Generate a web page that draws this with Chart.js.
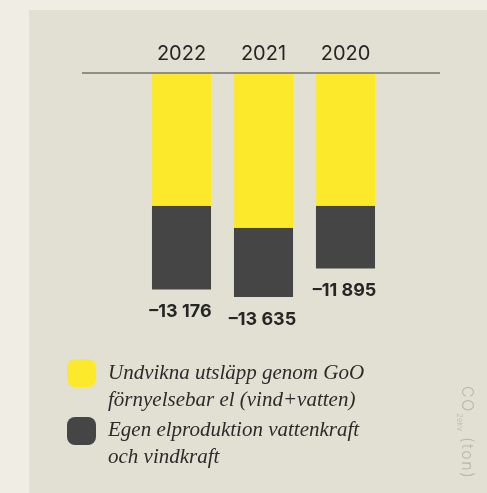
<!DOCTYPE html>
<html>
<head>
<meta charset="utf-8">
<script src="https://cdn.jsdelivr.net/npm/chart.js@4.4.1/dist/chart.umd.min.js"></script>
<style>
  html, body { margin: 0; padding: 0; background: #efede4; }
  #wrap { position: relative; width: 487px; height: 493px; overflow: hidden; }
  #panel { position: absolute; left: 29px; top: 10px; width: 458px; height: 483px; background: #e2e0d3; }
  #chart { position: absolute; left: 0; top: 0; }
  .sw { position: absolute; left: 67px; width: 29px; height: 28px; border-radius: 8px; }
  .lt { position: absolute; left: 108px; font-family: "Liberation Serif", serif; font-style: italic;
        font-size: 21px; line-height: 27px; color: #2b2b2b; white-space: nowrap; }
  #unit { position: absolute; left: 455px; top: 386px; writing-mode: vertical-rl;
          font-family: Inter, sans-serif; font-weight: 300; font-size: 16px; color: #b9b7ab; letter-spacing: 1.5px; }
  #unit sub { font-size: 8px; vertical-align: -8px; letter-spacing: 0; margin-right: 3px; }
</style>
</head>
<body>
<div id="wrap">
  <div id="panel"></div>
  <canvas id="chart" width="487" height="493"></canvas>
  <div class="sw" style="top:359px;background:#fde92b"></div>
  <div class="lt" style="top:359px">Undvikna utsläpp genom GoO<br>förnyelsebar el (vind+vatten)</div>
  <div class="sw" style="top:417px;background:#454545"></div>
  <div class="lt" style="top:416px">Egen elproduktion vattenkraft<br>och vindkraft</div>
  <div id="unit">CO<sub>2ekv</sub> (ton)</div>
</div>
<script>
const years = ["2022", "2021", "2020"];
const avoided = [-8070, -9410, -8065];
const ownProduction = [-5106, -4225, -3830];

function fmt(v) {
  return "\u2013" + String(Math.abs(v)).replace(/\B(?=(\d{3})+(?!\d))/g, " ");
}

const extras = {
  id: 'extras',
  afterDatasetsDraw(chart) {
    const ctx = chart.ctx;
    const y = chart.scales.y, x = chart.scales.x;
    ctx.save();
    // baseline
    ctx.strokeStyle = '#3c3c3c';
    ctx.lineWidth = 1.2;
    ctx.beginPath();
    ctx.moveTo(82, y.getPixelForValue(0) - 0.5);
    ctx.lineTo(440, y.getPixelForValue(0) - 0.5);
    ctx.stroke();
    // totals
    ctx.fillStyle = '#262626';
    ctx.font = '700 18px Inter, sans-serif';
    ctx.textAlign = 'center';
    ctx.textBaseline = 'middle';
    years.forEach((yr, i) => {
      const total = avoided[i] + ownProduction[i];
      ctx.fillText(fmt(total), x.getPixelForValue(i) - 1, y.getPixelForValue(total) + 22);
    });
    ctx.restore();
  }
};

new Chart(document.getElementById('chart').getContext('2d'), {
  type: 'bar',
  data: {
    labels: years,
    datasets: [
      { label: 'Undvikna utsläpp genom GoO', data: avoided, backgroundColor: '#fde92b' },
      { label: 'Egen elproduktion', data: ownProduction, backgroundColor: '#454545' }
    ]
  },
  options: {
    responsive: false,
    animation: false,
    layout: { padding: { left: 140.5, right: 100.5, top: 33.5, bottom: 173.5 } },
    plugins: { legend: { display: false }, tooltip: { enabled: false } },
    datasets: { bar: { barPercentage: 0.72, categoryPercentage: 1 } },
    scales: {
      x: {
        stacked: true,
        position: 'top',
        grid: { display: false, drawTicks: false },
        border: { display: false },
        ticks: { color: '#262626', font: { family: 'Inter', size: 20, weight: 400 }, padding: 8 }
      },
      y: {
        stacked: true,
        display: false,
        min: -15000,
        max: 0
      }
    }
  },
  plugins: [extras]
});
</script>
</body>
</html>
